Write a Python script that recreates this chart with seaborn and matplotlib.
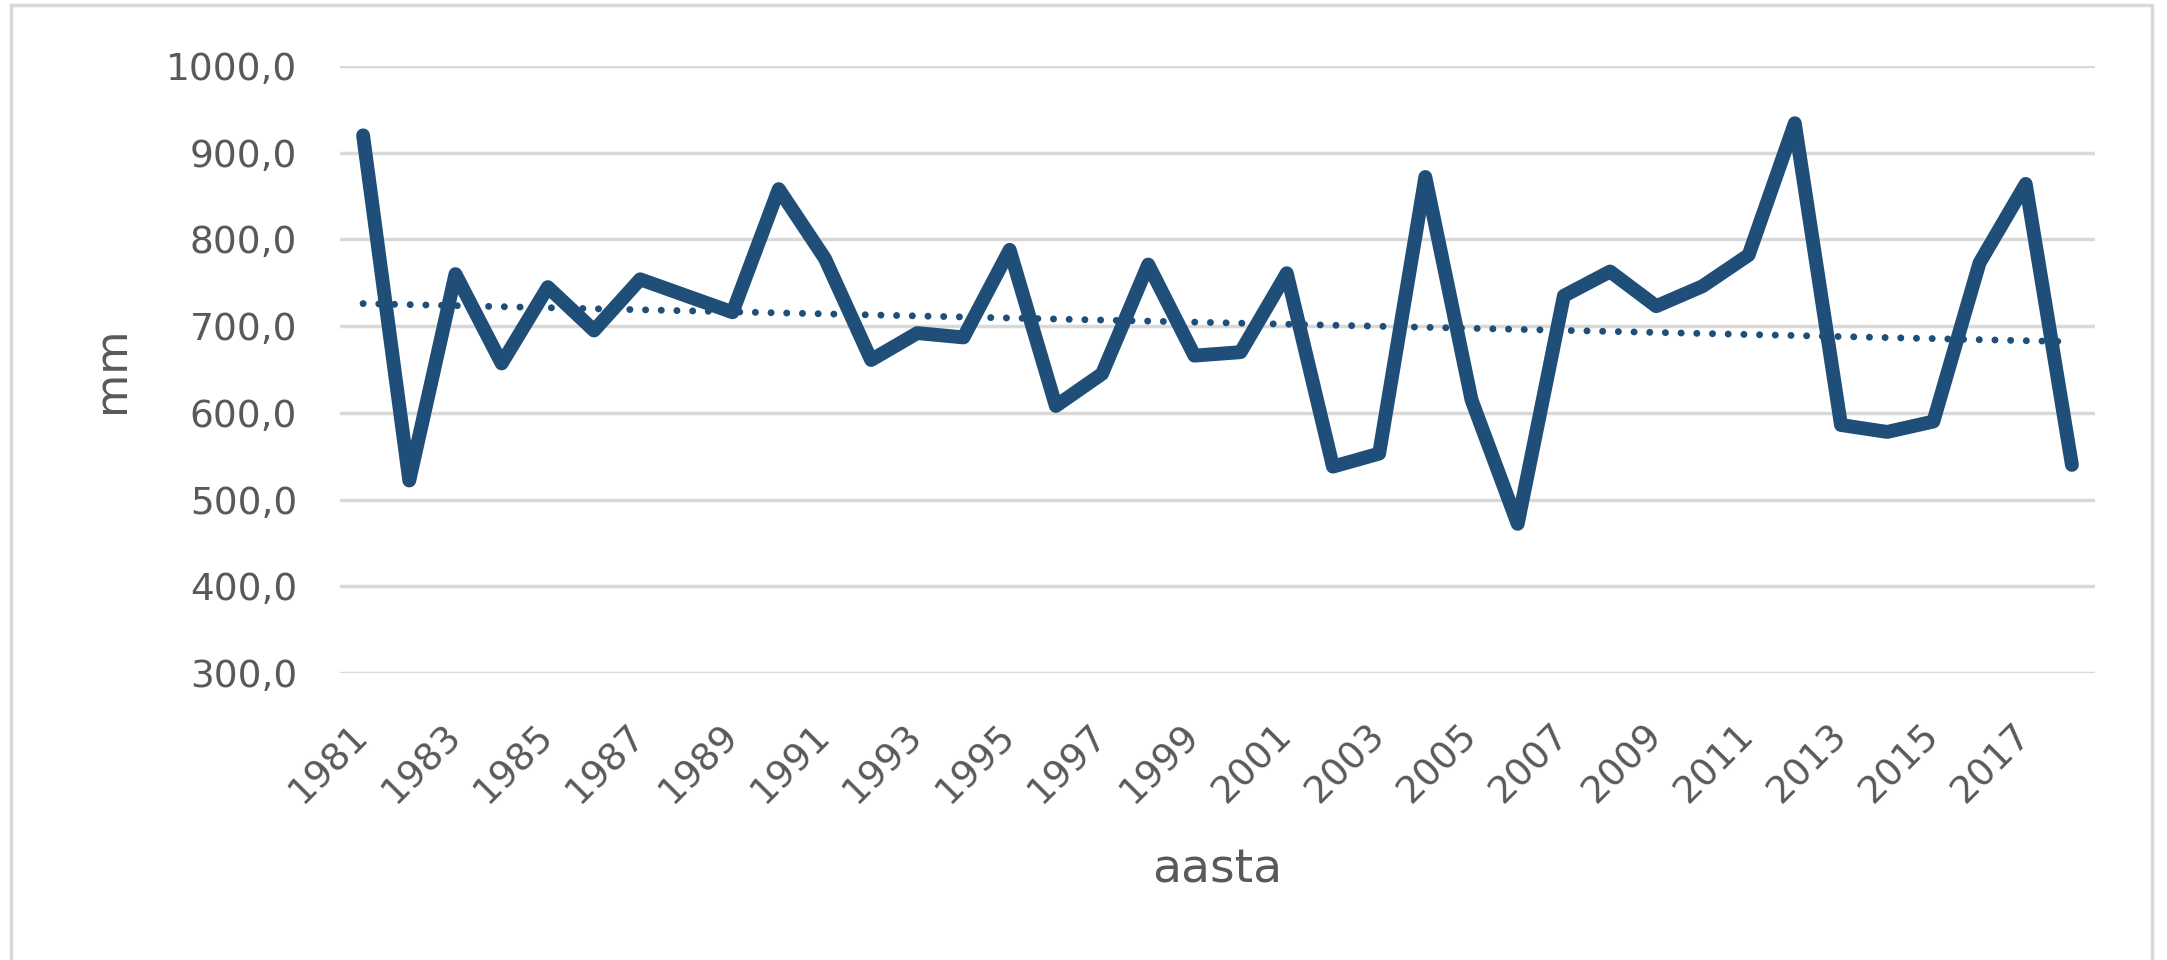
import numpy as np
import pandas as pd
import matplotlib
matplotlib.use("Agg")
import matplotlib.pyplot as plt
import matplotlib.patches as mpatches
import matplotlib.transforms as mtransforms
from matplotlib.ticker import FuncFormatter
import seaborn as sns

# annual precipitation, mm
years = list(range(1981, 2019))
precip = [920, 522, 760, 657, 745, 695, 754, 735, 716, 858,
          778, 661, 692, 687, 788, 608, 645, 771, 666, 670,
          761, 538, 553, 872, 615, 472, 735, 763, 723, 746,
          782, 934, 586, 578, 590, 773, 864, 540]
tick_years = list(range(1981, 2018, 2))

line_color = "#1F4E79"
text_color = "#595959"
grid_color = "#D9D9D9"

df = pd.DataFrame({"aasta": years, "mm": precip})

# linear trend (Excel style trendline)
slope, intercept = np.polyfit(df["aasta"], df["mm"], 1)
df["trend"] = slope * df["aasta"] + intercept

sns.set_theme(style="white")
plt.rcParams["font.family"] = ["DejaVu Sans"]

fig = plt.figure(figsize=(21.67, 9.6), dpi=100)
ax = fig.add_axes([340 / 2167, 1 - 673 / 960, 1755 / 2167, 607 / 960])

sns.lineplot(data=df, x="aasta", y="trend", ax=ax, color=line_color,
             linewidth=5.0, linestyle=(0, (0.01, 2.25)))
ax.lines[-1].set_dash_capstyle("round")
sns.lineplot(data=df, x="aasta", y="mm", ax=ax, color=line_color,
             linewidth=10, solid_capstyle="round", solid_joinstyle="round")

ax.set_xlim(1980.5, 2018.5)
ax.set_ylim(300, 1000)
ax.set_yticks(np.arange(300, 1001, 100))
ax.yaxis.set_major_formatter(FuncFormatter(lambda v, p: f"{v:.1f}".replace(".", ",")))
ax.set_xticks(tick_years)
ax.set_xticklabels([str(y) for y in tick_years], rotation=45, ha="right",
                   rotation_mode="anchor", va="center")
shift = mtransforms.ScaledTranslation(0.18, 0, fig.dpi_scale_trans)
for lbl in ax.get_xticklabels():
    lbl.set_transform(lbl.get_transform() + shift)

ax.grid(axis="y", color=grid_color, linewidth=2.5)
ax.grid(axis="x", visible=False)
ax.set_axisbelow(True)
for s in ax.spines.values():
    s.set_visible(False)

ax.tick_params(axis="y", length=0, pad=31, labelsize=27, labelcolor=text_color)
ax.tick_params(axis="x", length=0, pad=41, labelsize=27, labelcolor=text_color)

ax.set_xlabel("aasta", fontsize=34, color=text_color)
ax.set_ylabel("mm", fontsize=32, color=text_color)
ax.xaxis.set_label_coords(0.5, -0.287)
ax.yaxis.set_label_coords(-0.118, 0.5)

# chart area border
fig.patches.append(mpatches.Rectangle((11 / 2167, -0.05), 2141 / 2167, 1.05 - 5 / 960,
                                      transform=fig.transFigure, fill=False,
                                      edgecolor=grid_color, linewidth=2.5))

fig.savefig("out.png", dpi=100)
